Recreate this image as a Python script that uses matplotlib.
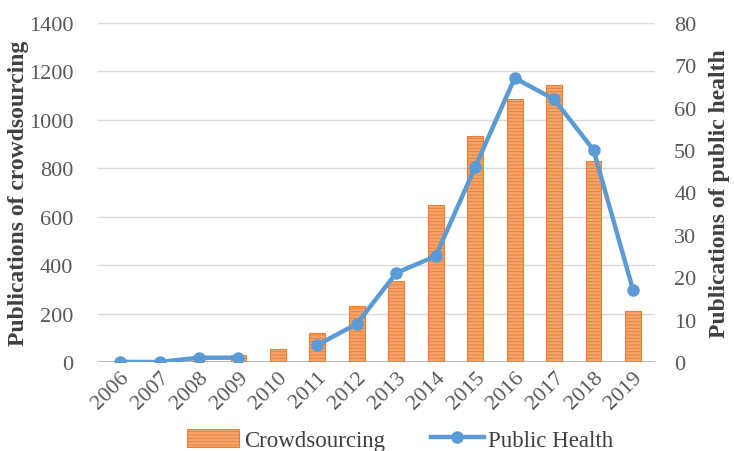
import numpy as np
import matplotlib
matplotlib.use("Agg")
from matplotlib import pyplot as plt

years = ['2006', '2007', '2008', '2009', '2010', '2011', '2012',
         '2013', '2014', '2015', '2016', '2017', '2018', '2019']
crowdsourcing = [0, 0, 5, 29, 54, 120, 231, 335, 650, 934, 1087, 1145, 828, 210]
public_health = [0, 0, 1, 1, np.nan, 4, 9, 21, 25, 46, 67, 62, 50, 17]

plt.rcParams['font.family'] = ['Liberation Serif', 'DejaVu Serif']
plt.rcParams['hatch.linewidth'] = 0.6

fig = plt.figure(figsize=(7.34, 4.52), dpi=100)
ax = fig.add_axes([0.134, 0.197, 0.758, 0.75])
ax2 = ax.twinx()

x = np.arange(len(years))
bars = ax.bar(x, crowdsourcing, width=0.4, color='#F4A46C', edgecolor='#ED7D31',
              linewidth=0.8, hatch='-----', zorder=2, label='Crowdsourcing')
line, = ax2.plot(x, public_health, color='#5B9BD5', linewidth=3.2, marker='o',
                 markersize=8, zorder=3, label='Public Health')

ax.set_ylim(0, 1400)
ax.set_yticks(range(0, 1401, 200))
ax2.set_ylim(0, 80)
ax2.set_yticks(range(0, 81, 10))
ax.set_xlim(-0.55, len(years) - 0.45)
ax.set_xticks(x)
ax.set_xticklabels(years, rotation=45, ha='right', rotation_mode='anchor')

ax.grid(axis='y', color='#D9D9D9', linewidth=1.0, zorder=0)
ax.set_axisbelow(True)
for a in (ax, ax2):
    for s in ('top', 'left', 'right', 'bottom'):
        a.spines[s].set_visible(False)
    a.tick_params(length=0, labelsize=16, colors='#595959')
ax.axhline(0, color='#BFBFBF', linewidth=1.5, zorder=1)
ax.tick_params(axis='y', pad=18)
ax2.tick_params(axis='y', pad=14)
ax.tick_params(axis='x', pad=4)

ax.set_ylabel('Publications of crowdsourcing', fontsize=17, fontweight='bold',
              color='#404040', labelpad=0)
ax2.set_ylabel('Publications of public health', fontsize=17, fontweight='bold',
               color='#404040', labelpad=9)

fig.legend([bars, line], ['Crowdsourcing', 'Public Health'], loc='lower center',
           bbox_to_anchor=(0.545, -0.045), ncol=2, frameon=False, fontsize=16.5,
           labelcolor='#404040', handlelength=2.3, handleheight=0.8,
           columnspacing=2.0, handletextpad=0.2)

fig.savefig('out.png', dpi=100)
